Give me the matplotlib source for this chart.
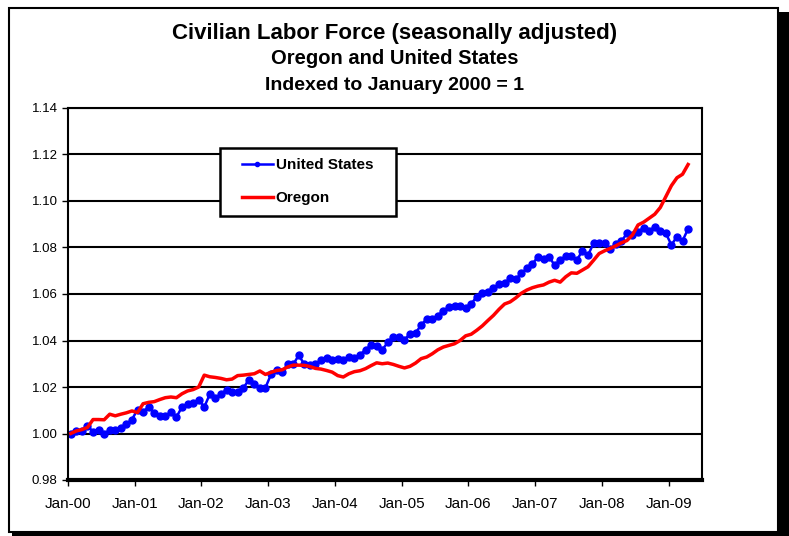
import matplotlib.pyplot as plt
from matplotlib.patches import Rectangle

plt.rcParams['font.family'] = ['Liberation Sans', 'DejaVu Sans']

# monthly index values, Jan-00 .. Apr-09
us = [1.0000, 1.0011, 1.0011, 1.0034, 1.0007, 1.0017, 1.0000, 1.0014, 1.0014, 1.0023,
      1.0040, 1.0060, 1.0103, 1.0094, 1.0114, 1.0089, 1.0074, 1.0077, 1.0091, 1.0071,
      1.0114, 1.0126, 1.0131, 1.0146, 1.0114, 1.0169, 1.0154, 1.0169, 1.0189, 1.0180,
      1.0180, 1.0194, 1.0231, 1.0211, 1.0194, 1.0197, 1.0254, 1.0271, 1.0266, 1.0297,
      1.0297, 1.0337, 1.0297, 1.0294, 1.0297, 1.0314, 1.0326, 1.0314, 1.0320, 1.0314,
      1.0329, 1.0323, 1.0339, 1.0360, 1.0380, 1.0378, 1.0360, 1.0392, 1.0417, 1.0414,
      1.0403, 1.0429, 1.0432, 1.0467, 1.0492, 1.0492, 1.0506, 1.0529, 1.0543, 1.0549,
      1.0549, 1.0541, 1.0557, 1.0589, 1.0603, 1.0610, 1.0624, 1.0643, 1.0646, 1.0667,
      1.0663, 1.0689, 1.0710, 1.0729, 1.0760, 1.0749, 1.0760, 1.0724, 1.0746, 1.0763,
      1.0763, 1.0746, 1.0786, 1.0767, 1.0818, 1.0819, 1.0819, 1.0794, 1.0814,
      1.0826, 1.0861, 1.0854, 1.0866, 1.0886, 1.0871, 1.0890, 1.0871, 1.0861, 1.0811,
      1.0847, 1.0829, 1.0880]

oregon = [1.0000, 1.0011, 1.0017, 1.0026, 1.0060, 1.0060, 1.0059, 1.0083, 1.0076, 1.0083,
          1.0089, 1.0097, 1.0090, 1.0128, 1.0134, 1.0137, 1.0146, 1.0154, 1.0157, 1.0154,
          1.0171, 1.0183, 1.0189, 1.0200, 1.0251, 1.0244, 1.0241, 1.0237, 1.0231, 1.0234,
          1.0249, 1.0251, 1.0254, 1.0257, 1.0269, 1.0254, 1.0263, 1.0271, 1.0274, 1.0286,
          1.0294, 1.0294, 1.0293, 1.0288, 1.0280, 1.0277, 1.0271, 1.0264, 1.0249, 1.0243,
          1.0257, 1.0266, 1.0270, 1.0279, 1.0292, 1.0304, 1.0300, 1.0303, 1.0297, 1.0289,
          1.0282, 1.0289, 1.0303, 1.0322, 1.0329, 1.0343, 1.0360, 1.0372, 1.0379, 1.0386,
          1.0400, 1.0420, 1.0427, 1.0444, 1.0463, 1.0486, 1.0508, 1.0534, 1.0557, 1.0566,
          1.0583, 1.0603, 1.0617, 1.0627, 1.0634, 1.0639, 1.0651, 1.0659, 1.0651, 1.0674,
          1.0691, 1.0689, 1.0703, 1.0717, 1.0745, 1.0774, 1.0786, 1.0796, 1.0807,
          1.0820, 1.0830, 1.0854, 1.0897, 1.0909, 1.0926, 1.0943, 1.0972, 1.1019, 1.1066,
          1.1100, 1.1115, 1.1157]

years = ['Jan-00', 'Jan-01', 'Jan-02', 'Jan-03', 'Jan-04', 'Jan-05',
         'Jan-06', 'Jan-07', 'Jan-08', 'Jan-09']
yticks = [0.98, 1.00, 1.02, 1.04, 1.06, 1.08, 1.10, 1.12, 1.14]

months = [i + 0.5 for i in range(len(us))]

fig = plt.figure(figsize=(7.89, 5.36), dpi=100)

# outer chart frame with dark shadow (Excel style)
fig.patches.append(Rectangle((12 / 789, 0), 1, 1 - 12 / 536, transform=fig.transFigure,
                             facecolor='black', edgecolor='none', zorder=0))
fig.patches.append(Rectangle((9 / 789, 1 - 532 / 536), 769 / 789, 524 / 536,
                             transform=fig.transFigure, facecolor='white',
                             edgecolor='black', lw=1.5, zorder=1))

ax = fig.add_axes([68 / 789, 1 - 480 / 536, 634 / 789, 372 / 536])
ax.set_zorder(2)

ax.plot(months, us, color='#0000FF', lw=1.8, marker='o', ms=5, label='United States')
ax.plot(months, oregon, color='#FF0000', lw=2.5, label='Oregon')

ax.set_xlim(0, 114)
ax.set_ylim(0.98, 1.14)
ax.set_yticks(yticks)
ax.set_yticklabels([f'{v:.2f}' for v in yticks])
ax.set_xticks([12 * i for i in range(len(years))])
ax.set_xticklabels(years)
ax.tick_params(axis='both', direction='out', length=4, width=1, colors='black')
ax.tick_params(axis='y', labelsize=9.5)
ax.tick_params(axis='x', labelsize=11, pad=8)

ax.yaxis.grid(True, color='black', lw=1.5)
ax.set_axisbelow(True)
for side in ['left', 'right', 'top']:
    ax.spines[side].set_linewidth(1.5)
ax.spines['bottom'].set_linewidth(3)

fig.text(0.5, 1 - 34 / 536, 'Civilian Labor Force (seasonally adjusted)', ha='center',
         va='center', fontsize=16, fontweight='bold')
fig.text(0.5, 1 - 59 / 536, 'Oregon and United States', ha='center', va='center',
         fontsize=14.5, fontweight='bold')
fig.text(0.5, 1 - 85 / 536, 'Indexed to January 2000 = 1', ha='center', va='center',
         fontsize=14, fontweight='bold')

# legend box drawn as its own rectangle, entries placed inside it
ax.add_patch(Rectangle((220 / 789, 1 - 216 / 536), 176 / 789, 68 / 536,
                       transform=fig.transFigure, facecolor='white', edgecolor='black',
                       lw=1.8, zorder=5, clip_on=False))
leg = ax.legend(loc='upper left', bbox_to_anchor=(239 / 789, 1 - 155 / 536),
                bbox_transform=fig.transFigure, borderaxespad=0, frameon=False,
                prop={'weight': 'bold', 'size': 11}, numpoints=1,
                handlelength=2.0, labelspacing=1.27, borderpad=0.2, handletextpad=0.2,
                markerscale=0.6)
leg.set_zorder(6)

fig.savefig('out.png', dpi=100)
